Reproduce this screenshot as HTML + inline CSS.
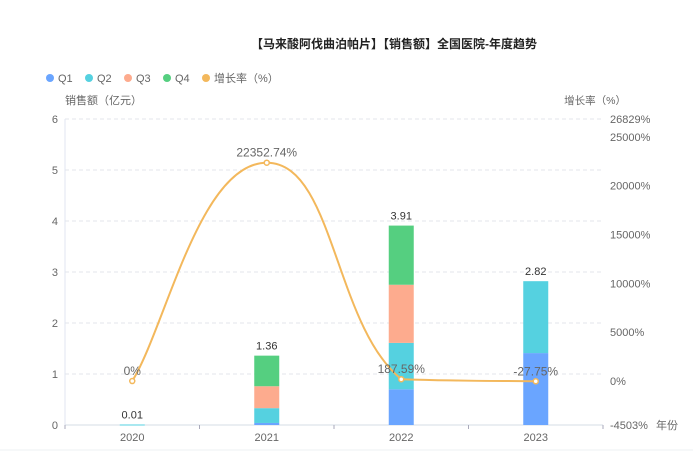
<!DOCTYPE html>
<html><head><meta charset="utf-8"><style>
body{margin:0;background:#fff;}
svg{display:block;font-family:"Liberation Sans","Noto Sans CJK SC",sans-serif;}
</style></head><body>
<svg id="c" width="693" height="460">
<text x="394" y="48" text-anchor="middle" font-size="12" font-weight="bold" fill="#222">【马来酸阿伐曲泊帕片】【销售额】全国医院-年度趋势</text>
<g id="legend"></g>
<text x="65" y="104" font-size="11" fill="#666">销售额（亿元）</text>
<text x="626" y="104" font-size="10.5" fill="#666" text-anchor="end">增长率（%）</text>
<text x="656" y="429" font-size="11" fill="#666">年份</text>
<line x1="0" y1="450" x2="693" y2="450" stroke="#eef0f3" stroke-width="1"/>
<g id="grid"></g><g id="bars"></g><g id="line"></g>
</svg>
<script>
const categories=["2020","2021","2022","2023"];
const q1=[0.0,0.04,0.70,1.41];
const q2=[0.01,0.29,0.91,1.41];
const q3=[0,0.43,1.14,0];
const q4=[0,0.60,1.16,0];
const totals=["0.01","1.36","3.91","2.82"];
const growth=[0,22352.74,187.59,-27.75];
const growthLabels=["0%","22352.74%","187.59%","-27.75%"];
const leftTicks=[0,1,2,3,4,5,6];
const rightTicks=[-4503,0,5000,10000,15000,20000,25000,26829];
const seriesNames=["Q1","Q2","Q3","Q4","增长率（%）"];
const colors=["#6aa5ff","#55d1e0","#fdab8e","#55cf80","#f3b85c"];

const NS="http://www.w3.org/2000/svg";
const X0=65,X1=603,Y0=425,Y1=119;
const yL=v=>Y0-(v/6)*(Y0-Y1);
const yR=v=>Y0-((v+4503)/(26829+4503))*(Y0-Y1);
const band=(X1-X0)/categories.length;
const xC=i=>X0+band*(i+0.5);
function mk(tag,attrs,parent,txt){const e=document.createElementNS(NS,tag);for(const k in attrs)e.setAttribute(k,attrs[k]);if(txt!==undefined)e.textContent=txt;parent.appendChild(e);return e;}
const grid=document.getElementById('grid'),bars=document.getElementById('bars'),line=document.getElementById('line'),legend=document.getElementById('legend');

let lx=50;
seriesNames.forEach((n,i)=>{
  const g=mk('g',{},legend);
  
  
  mk('circle',{cx:lx,cy:78,r:4,fill:colors[i]},g);
  mk('text',{x:lx+8,y:82,'font-size':11,fill:'#666'},g,n);
  lx+=8+(i<4?17:58)+14;
});

leftTicks.forEach(v=>{
  const y=yL(v);
  if(v>0){const l=mk('line',{x1:X0,x2:X1,y1:y,y2:y,stroke:'#e3e6eb','stroke-dasharray':'4,3'},grid);
  }
  const t=mk('text',{x:58,y:y+4,'text-anchor':'end','font-size':11,fill:'#666'},grid,String(v));
  
});
rightTicks.forEach(v=>{
  const t=mk('text',{x:610,y:yR(v)+4,'font-size':11,fill:'#666'},grid,v+'%');
  
});
const ax=mk('line',{x1:X0,x2:X0,y1:Y1,y2:Y0,stroke:'#e0e6f1'},grid);

const bx=mk('line',{x1:X0,x2:X1,y1:Y0,y2:Y0,stroke:'#d6dce6'},grid);

for(let i=0;i<=categories.length;i++){
  const x=X0+band*i;
  const tk=mk('line',{x1:x,x2:x,y1:Y0,y2:Y0+4,stroke:'#aab'},grid);
  
}
categories.forEach((c,i)=>{
  const t=mk('text',{x:xC(i),y:441,'text-anchor':'middle','font-size':11,fill:'#666'},grid,c);
  
});

const series=[q1,q2,q3,q4];
categories.forEach((c,i)=>{
  let base=0;const w=25;
  series.forEach((s,k)=>{
    const v=s[i];if(v<=0)return;
    const y1=yL(base+v),y0=yL(base);
    const r=mk('rect',{x:xC(i)-w/2,y:y1,width:w,height:Math.max(y0-y1,1),fill:colors[k]},bars);
    
    
    base+=v;
  });
  const t=mk('text',{x:xC(i),y:yL(base)-6,'text-anchor':'middle','font-size':11,fill:'#333'},bars,totals[i]);
  
});

const pts=growth.map((g,i)=>[xC(i),yR(g)]);
let d='M'+pts[0][0]+','+pts[0][1];
const sm=0.5;
const clamp=(v,a,b)=>Math.max(Math.min(a,b),Math.min(Math.max(a,b),v));
for(let i=0;i<pts.length-1;i++){
  const p0=pts[Math.max(i-1,0)],p1=pts[i],p2=pts[i+1],p3=pts[Math.min(i+2,pts.length-1)];
  let c1=[p1[0]+(p2[0]-p0[0])*sm/2,p1[1]+(p2[1]-p0[1])*sm/2];
  let c2=[p2[0]-(p3[0]-p1[0])*sm/2,p2[1]-(p3[1]-p1[1])*sm/2];
  // monotone clamp (echarts-like)
  const isExt=j=>j>0&&j<pts.length-1&&((pts[j][1]-pts[j-1][1])*(pts[j+1][1]-pts[j][1])<=0);
  if(isExt(i))c1[1]=p1[1];
  if(isExt(i+1))c2[1]=p2[1];
  c1[1]=clamp(c1[1],p1[1],p2[1]);c2[1]=clamp(c2[1],p1[1],p2[1]);
  d+=` C${c1[0]},${c1[1]} ${c2[0]},${c2[1]} ${p2[0]},${p2[1]}`;
}
const path=mk('path',{d:d,fill:'none',stroke:colors[4],'stroke-width':2},line);

pts.forEach((p,i)=>{
  const cc=mk('circle',{cx:p[0],cy:p[1],r:2.5,fill:'#fff',stroke:colors[4],'stroke-width':1.5},line);
  
  const t=mk('text',{x:p[0],y:p[1]-6,'text-anchor':'middle','font-size':12,fill:'#666'},line,growthLabels[i]);
  
});
</script>
</body></html>
